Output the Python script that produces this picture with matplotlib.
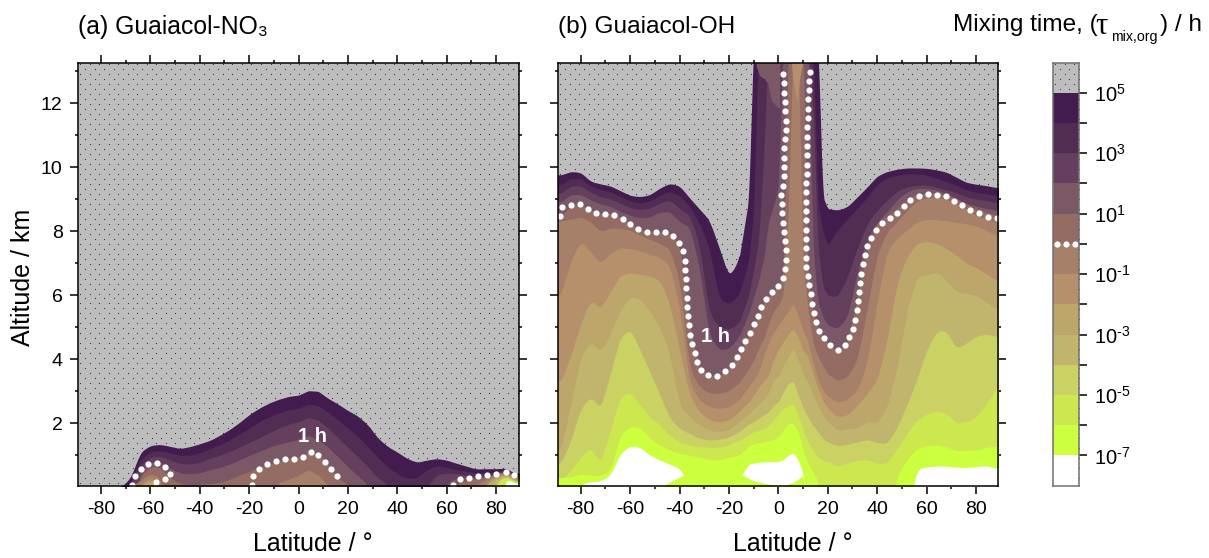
import matplotlib
matplotlib.use('Agg')
import matplotlib.pyplot as plt
import numpy as np

plt.rcParams['font.family'] = ['Liberation Sans', 'DejaVu Sans']
plt.rcParams['mathtext.fontset'] = 'custom'
plt.rcParams['mathtext.rm'] = 'Liberation Sans'
plt.rcParams['mathtext.it'] = 'Liberation Sans:italic'
plt.rcParams['mathtext.bf'] = 'Liberation Sans:bold'
plt.rcParams['mathtext.default'] = 'regular'

# band colours, from 10^5..10^4 down to below 10^-7
band_colors = ['#421c4e', '#512c53', '#65405e', '#7a5865', '#946c63', '#a68068', '#b6906a',
               '#bca669', '#c1b56e', '#c9d263', '#cde74e', '#ccff3d', '#ffffff']
gray = '#bdbdbd'
exponents = [5, 4, 3, 2, 1, 0, -1, -2, -3, -4, -5, -6, -7]

# (b) Guaiacol-OH: altitude (km) of each mixing time contour at each latitude
lat_b = [-88, -84, -80, -76, -72, -68, -64, -60, -56, -52, -48, -44, -40, -36, -32, -28, -24, -20, -16, -12,
         -10, -8, -6, -4, -2, 0, 2, 4, 6, 8, 10, 12, 14, 16, 18, 20,
         24, 28, 32, 36, 40, 44, 48, 52, 56, 60, 64, 68, 72, 76, 80, 84, 88]
b_p5 = [9.76, 9.87, 9.84, 9.56, 9.48, 9.42, 9.27, 9.12, 9.08, 9.14, 9.35, 9.50, 9.42, 9.05, 8.70, 8.36, 7.50, 6.58, 7.10, 9.0,
        14, 14, 14, 14, 14, 14, 14, 14, 14, 14, 14, 14, 14, 14, 9.08, 8.71,
        8.66, 8.77, 9.08, 9.39, 9.73, 9.87, 9.94, 9.98, 9.98, 9.97, 9.92, 9.85, 9.69, 9.53, 9.47, 9.43, 9.37]
b_p4 = [9.45, 9.66, 9.66, 9.42, 9.30, 9.24, 9.09, 8.95, 8.88, 8.95, 9.12, 9.25, 9.12, 8.80, 8.25, 7.50, 5.90, 5.72, 6.00, 7.10,
        8.60, 14, 14, 14, 14, 14, 14, 14, 14, 14, 14, 14, 14, 8.9, 8.0, 7.57,
        8.04, 8.40, 8.71, 9.08, 9.48, 9.68, 9.75, 9.80, 9.80, 9.76, 9.66, 9.56, 9.44, 9.30, 9.22, 9.18, 9.12]
b_p3 = [9.18, 9.42, 9.42, 9.22, 9.08, 9.02, 8.88, 8.74, 8.68, 8.72, 8.88, 8.98, 8.72, 8.50, 7.62, 5.43, 5.02, 4.94, 5.12, 6.00,
        6.8, 7.7, 10.2, 14, 14, 14, 14, 14, 14, 14, 14, 14, 12, 7.5, 6.27, 6.0,
        5.95, 6.58, 7.50, 8.25, 8.66, 8.98, 9.24, 9.39, 9.44, 9.45, 9.38, 9.30, 9.20, 9.08, 9.00, 8.97, 8.90]
b_p2 = [8.92, 9.15, 9.15, 8.98, 8.85, 8.78, 8.62, 8.50, 8.42, 8.45, 8.60, 8.62, 8.30, 8.15, 6.90, 4.75, 4.29, 4.34, 4.70, 5.43,
        5.95, 6.47, 7.1, 8.3, 8.8, 9.3, 14, 14, 14, 14, 14, 14, 7.52, 5.8, 5.33, 5.07,
        4.96, 5.33, 6.74, 7.78, 8.30, 8.61, 8.98, 9.24, 9.34, 9.34, 9.29, 9.18, 9.03, 8.87, 8.79, 8.71, 8.66]
b_p1 = [8.47, 8.80, 8.82, 8.68, 8.55, 8.56, 8.45, 8.27, 8.04, 7.97, 7.98, 7.96, 7.62, 5.10, 3.74, 3.49, 3.50, 3.70, 4.20, 4.78,
        5.05, 5.4, 5.77, 6.0, 6.1, 6.3, 6.6, 14, 14, 14, 14, 6.5, 5.5, 5.0, 4.72, 4.5,
        4.26, 4.55, 5.9, 7.5, 8.25, 8.5, 8.7, 9.0, 9.15, 9.2, 9.2, 9.15, 9.0, 8.85, 8.7, 8.6, 8.5]
b_0 = [8.33, 8.38, 8.45, 8.30, 7.99, 8.11, 8.09, 8.04, 7.88, 7.75, 7.62, 7.46, 6.47, 3.71, 3.14, 2.95, 2.93, 3.02, 3.25, 3.71,
       3.97, 4.34, 4.65, 5.1, 5.5, 5.7, 6.0, 8.5, 14, 14, 6.9, 5.6, 4.5, 4.1, 3.8, 3.55,
       3.33, 3.45, 4.0, 5.6, 7.3, 8.0, 8.3, 8.65, 8.95, 9.05, 9.05, 9.0, 8.85, 8.7, 8.5, 8.4, 8.3]
b_m1 = [6.0, 7.1, 7.69, 7.36, 7.0, 7.31, 7.49, 7.46, 7.39, 7.29, 7.18, 6.94, 5.64, 3.25, 2.73, 2.52, 2.46, 2.52, 2.73, 3.14,
        3.37, 3.6, 4.1, 4.5, 4.85, 5.05, 5.3, 5.5, 5.75, 5.38, 4.91, 4.55, 3.9, 3.4, 3.05, 2.85,
        2.66, 2.75, 3.04, 3.9, 5.8, 7.4, 7.78, 8.04, 8.3, 8.37, 8.37, 8.33, 8.28, 8.24, 8.17, 8.04, 7.88]
b_m2 = [3.3, 4.13, 5.12, 5.85, 5.59, 6.11, 6.63, 6.70, 6.66, 6.60, 6.47, 5.75, 4.29, 2.88, 2.36, 2.10, 2.05, 2.10, 2.36, 2.67,
        2.88, 3.14, 3.3, 3.5, 3.98, 4.3, 4.55, 4.8, 4.96, 4.7, 4.29, 4.08, 3.56, 3.09, 2.72, 2.46,
        2.2, 2.26, 2.57, 2.93, 3.35, 4.6, 6.4, 7.2, 7.62, 7.69, 7.62, 7.46, 7.26, 7.0, 6.87, 6.68, 6.47]
b_m3 = [1.16, 2.62, 4.08, 4.55, 4.24, 4.81, 5.54, 5.95, 5.9, 5.49, 5.02, 4.18, 2.55, 2.2, 1.95, 1.78, 1.74, 1.8, 2.05, 2.3,
        2.45, 2.6, 2.75, 2.95, 3.35, 3.45, 3.82, 4.08, 4.34, 3.98, 3.56, 3.25, 2.88, 2.57, 2.26, 2.05,
        1.77, 1.83, 1.85, 2.07, 2.0, 2.5, 3.7, 5.5, 6.58, 6.63, 6.74, 6.47, 6.11, 6.06, 6.0, 5.8, 5.59]
b_m4 = [.75, 1.47, 2.46, 2.83, 2.46, 3.56, 4.7, 4.94, 4.3, 3.6, 2.9, 2.15, 1.84, 1.68, 1.53, 1.47, 1.5, 1.56, 1.74, 1.98,
        2.05, 2.15, 2.26, 2.36, 2.57, 2.67, 2.99, 3.25, 3.33, 2.88, 2.46, 2.2, 1.94, 1.74, 1.53, 1.42,
        1.29, 1.35, 1.42, 1.5, 1.39, 1.37, 1.87, 2.57, 3.35, 4.29, 4.88, 4.89, 4.34, 4.5, 4.72, 4.79, 4.72]
b_m5 = [.22, .54, .95, 1.25, .75, 1.79, 2.83, 2.99, 2.57, 2.2, 1.94, 1.63, 1.42, 1.32, 1.27, 1.25, 1.25, 1.32, 1.47, 1.63,
        1.74, 1.79, 1.84, 1.94, 2.1, 2.29, 2.46, 2.57, 2.6, 2.26, 1.79, 1.42, 1.16, .95, .85, .8,
        .66, .75, .85, .87, .75, .75, 1.21, 1.68, 2.1, 2.29, 2.39, 2.31, 2.0, 2.05, 2.2, 2.57, 3.09]
b_m6 = [.3, .33, .42, .38, .37, .54, 1.63, 1.91, 1.87, 1.53, 1.32, 1.16, 1.06, 1.0, .95, .87, .85, .95, 1.0, 1.3,
        1.35, 1.4, 1.42, 1.45, 1.5, 1.58, 1.79, 2.0, 2.0, 1.74, 1.16, .75, .49, .19, -1, -1,
        -1, -1, -1, -1, -1, -1, .38, .85, 1.21, 1.31, 1.32, 1.27, 1.14, 1.16, 1.16, 1.25, 1.29]
b_m7 = [-1, -1, .1, .17, .2, .38, 1.06, 1.3, 1.25, 1.0, .85, .72, .59, .1, -1, -1, -1, -.1, .25, .72,
        .75, .78, .8, .8, .8, .8, .87, 1.0, 1.08, .85, .45, -1, -1, -1, -1, -1,
        -1, -1, -1, -1, -1, -1, -1, -1, .56, .64, .66, .66, .63, .62, .64, .68, .59]
# lower edge of the white patches, lime below it
b_m7_floor = [-1, -1, -1, -1, -1, -1, -1, -1, -1, -1, -.02, .17, .31, .5, -1, -1, -1, .9, .45, .28,
              .2, .17, .13, .1, .07, .05, .05, .1, .15, .25, .4, -1, -1, -1, -1, -1,
              -1, -1, -1, -1, -1, -1, -1, -1, -1, -1, -1, -1, -1, -1, -1, -1, -1]
b_levels = [b_p5, b_p4, b_p3, b_p2, b_p1, b_0, b_m1, b_m2, b_m3, b_m4, b_m5, b_m6, b_m7]

# tops of the updraft column where the mixing time falls again with altitude
pocket1_lat = [-8.8, -8.8, -7.4, -5.5, -4.0, -3.2, -2.5, 0.7, 0.7]
pocket1_alt = [13.3, 13.15, 12.85, 12.75, 12.6, 12.3, 12.05, 11.8, 13.3]
pocket2_lat = [5.4, 6, 7.7, 8.9, 10.1]
pocket2_alt = [13.3, 12.8, 12.0, 12.8, 13.3]

# 1 h line in (b)
b_1h_left_lat = [-88.3, -87.6, -84.6, -81.1, -78.1, -74.9, -71.1, -67.5, -64.1, -61, -57.9, -54.3, -50.5, -46.7, -43.7, -41.2, -39,
                 -38.1, -37.7, -37.4, -37, -36.7, -35.9, -35.1, -34.3, -33.3, -32.4, -30.1, -26.3, -23.2, -20.2, -17.5, -15.9,
                 -14.4, -12.4, -10.4, -9, -7.4, -5.9, -3.9, -0.9, 1.5, 2.7, 3.1, 3.1, 3, 2.4, 1.9, 1.35, 1.08, 1.75, 2.3, 2.4, 2.4, 3.0, 3.1, 2.7, 2.3, 1.35]
b_1h_left_alt = [8.47, 8.75, 8.79, 8.87, 8.77, 8.59, 8.53, 8.56, 8.45, 8.30, 8.12, 7.99, 7.97, 8.01, 7.95, 7.76, 7.48,
                 7.18, 6.89, 6.32, 5.73, 5.43, 4.86, 4.58, 4.30, 4.03, 3.78, 3.56, 3.44, 3.53, 3.69, 3.95, 4.2,
                 4.5, 4.74, 5.0, 5.25, 5.52, 5.79, 6.01, 6.2, 6.47, 6.76, 7.05, 7.33, 7.62, 7.91, 8.2, 8.79, 9.09, 9.38, 9.67, 9.96, 10.55, 11.12, 11.41, 12.0, 12.58, 13.15]
b_1h_right_lat = [12.7, 12.3, 11.9, 11.7, 11.6, 11.5, 11.3, 11.3, 11.2, 11.2, 11.3, 12.1, 12.6, 13.2, 13.9, 14.7, 15.5, 16.6, 18.6, 21.2, 24.6,
                  27.4, 29.1, 30.4, 31.2, 31.8, 32.4, 32.8, 33.3, 33.7, 34.4, 35.4, 36.3, 38, 39.9, 42.2, 45.7, 48.3, 51.1, 54, 57.8,
                  61.5, 65.2, 68.4, 71.5, 74.8, 78.5, 81.9, 85.3, 88.4]
b_1h_right_alt = [12.99, 12.38, 11.8, 11.21, 10.63, 10.05, 9.18, 8.31, 7.43, 7.14, 6.85, 6.57, 6.27, 5.98, 5.68, 5.4, 5.12, 4.88, 4.64, 4.42, 4.26,
                  4.48, 4.74, 5.02, 5.31, 5.59, 5.89, 6.18, 6.47, 6.76, 7.04, 7.33, 7.6, 7.84, 8.11, 8.31, 8.43, 8.6, 8.82, 9.03, 9.14,
                  9.16, 9.14, 9.09, 8.94, 8.79, 8.63, 8.57, 8.43, 8.4]

# (a) Guaiacol-NO3
lat_a = [-72, -68, -64, -60, -56, -52, -48, -44, -40, -36, -32, -28, -24, -20, -16, -12, -8, -4, 0, 4, 8, 12, 16, 20,
         24, 28, 32, 36, 40, 44, 48, 52, 56, 60, 64, 68, 72, 76, 80, 84, 88]
a_p5 = [0, .3, 1.1, 1.31, 1.34, 1.28, 1.21, 1.27, 1.36, 1.46, 1.62, 1.8, 2.02, 2.27, 2.47, 2.63, 2.75, 2.84, 2.88, 3.02, 3.0, 2.78, 2.6, 2.4,
        2.23, 1.96, 1.55, 1.28, 1.1, .9, .78, .85, .9, .85, .75, .66, .57, .58, .58, .6, .42]
a_p4 = [-1, .15, .88, 1.12, 1.15, 1.08, 1.0, 1.0, 1.08, 1.2, 1.33, 1.48, 1.65, 1.85, 2.05, 2.2, 2.33, 2.42, 2.47, 2.6, 2.55, 2.35, 2.1, 1.85,
        1.6, 1.28, .95, .65, .42, .28, .3, .55, .68, .62, .55, .5, .45, .46, .48, .57, .4]
a_p3 = [-1, .08, .7, .95, .98, .85, .75, .72, .78, .9, 1.0, 1.12, 1.25, 1.4, 1.55, 1.7, 1.85, 1.97, 2.05, 2.18, 2.1, 1.85, 1.55, 1.25,
        .95, .65, .3, .1, -1, -1, -1, 0, .4, .45, .42, .38, .35, .36, .42, .55, .37]
a_p2 = [-1, -1, .5, .8, .8, .6, .45, .42, .45, .55, .62, .72, .85, 1.0, 1.12, 1.25, 1.35, 1.42, 1.5, 1.62, 1.5, 1.25, .95, .65,
        .35, .1, -1, -1, -1, -1, -1, -1, -1, .15, .28, .32, .3, .32, .38, .53, .35]
a_p1 = [-1, -1, .35, .65, .62, .3, .12, .08, .1, .12, .15, .25, .38, .5, .62, .72, .82, .9, .95, 1.1, 1.05, .72, .3, .08,
        -1, -1, -1, -1, -1, -1, -1, -1, -1, -1, .12, .22, .28, .33, .42, .5, .33]
a_0 = [-1, .02, .22, .42, .32, -1, -1, -1, -1, -1, -1, -1, -1, -1, -1, -1, .15, .25, .38, .55, .38, .05, -1, -1,
       -1, -1, -1, -1, -1, -1, -1, -1, -1, -1, -1, -1, .1, .25, .4, .47, .3]
a_m1 = [-1, -1, .12, .3, .15, -1, -1, -1, -1, -1, -1, -1, -1, -1, -1, -1, -1, -1, -1, -1, -1, -1, -1, -1,
        -1, -1, -1, -1, -1, -1, -1, -1, -1, -1, -1, -1, -1, .2, .35, .45, .25]
a_m2 = [-1, -1, .05, .22, .08, -1, -1, -1, -1, -1, -1, -1, -1, -1, -1, -1, -1, -1, -1, -1, -1, -1, -1, -1,
        -1, -1, -1, -1, -1, -1, -1, -1, -1, -1, -1, -1, -1, .12, .3, .42, .22]
a_m3 = [-1, -1, -1, .16, -1, -1, -1, -1, -1, -1, -1, -1, -1, -1, -1, -1, -1, -1, -1, -1, -1, -1, -1, -1,
        -1, -1, -1, -1, -1, -1, -1, -1, -1, -1, -1, -1, -1, .05, .24, .39, .2]
a_m4 = [-1] * 38 + [.17, .36, .18]
a_m5 = [-1] * 38 + [.1, .33, .16]
a_m6 = [-1] * 39 + [.3, .14]
a_m7 = [-1] * 39 + [.26, .12]
a_levels = [a_p5, a_p4, a_p3, a_p2, a_p1, a_0, a_m1, a_m2, a_m3, a_m4, a_m5, a_m6, a_m7]

# 1 h line in (a), three pieces
a_1h_lat = [[-67.5, -66.6, -64.7, -61.9, -58.4, -55, -52.3, -51.6, -55.4, -59],
            [-18.7, -18.7, -16.7, -13.4, -9.8, -6, -2.2, 1.3, 4, 6.8, 9.1, 11.8, 14.5, 17.1],
            [62.7, 63.8, 67.5, 71.3, 75, 78.8, 82.4, 85.9, 88.3]]
a_1h_alt = [[.07, .28, .51, .72, .78, .72, .54, .33, .23, .12],
            [.07, .31, .54, .71, .82, .87, .87, .93, 1.09, 1.11, .89, .69, .47, .22],
            [.07, .22, .29, .32, .37, .39, .46, .48, .3]]

W, H = 1209, 558
fig = plt.figure(figsize=(W / 100, H / 100), dpi=100)
xx = np.arange(-92, 92, 0.25)


def axes_px(x0, x1, y0, y1):
    return fig.add_axes([x0 / W, 1 - y1 / H, (x1 - x0) / W, (y1 - y0) / H])


def stipple(ax, xstep, ystep):
    x0, x1 = ax.get_xlim()
    y0, y1 = ax.get_ylim()
    for i, y in enumerate(np.arange(y0 + ystep / 2, y1, ystep)):
        xs = np.arange(x0 + (i % 2 + 0.5) * xstep / 2, x1, xstep)
        ax.scatter(xs, np.full_like(xs, y), s=0.75, c='#333333', lw=0, zorder=1)


def box(y, n):
    k = np.ones(n) / n
    return np.convolve(np.pad(y, n // 2, mode='edge'), k, mode='valid')


def smooth_curve(lat, row):
    # heavy smoothing away from the steep column walls, light near them
    yy = np.interp(xx, lat, row)
    wide = box(box(yy, 9), 9)
    thin = box(yy, 5)
    return np.where((xx > -16) & (xx < 22), thin, wide)


def draw_bands(ax, lat, levels):
    for row, col in zip(levels, band_colors):
        ax.fill_between(xx, -2, smooth_curve(lat, row), color=col, lw=0, zorder=2)


def dots(ax, lat, alt):
    # evenly spaced along the path, 9.3 px apart
    px = np.array(lat) * 2.47
    py = np.array(alt) * 32
    dist = np.concatenate([[0], np.cumsum(np.hypot(np.diff(px), np.diff(py)))])
    at = np.arange(0, dist[-1] + 1, 9.3)
    ax.scatter(np.interp(at, dist, lat), np.interp(at, dist, alt), s=20, c='white', lw=0, zorder=4)


def style_axes(ax, xlim):
    ax.set_xlim(*xlim)
    ax.set_ylim(0.05, 13.25)
    ax.set_facecolor(gray)
    ax.set_xticks(np.arange(-80, 81, 20))
    ax.set_xticks(np.arange(-70, 71, 20), minor=True)
    ax.set_xticklabels([str(v) for v in range(-80, 81, 20)])
    ax.set_yticks(np.arange(2, 13, 2))
    ax.set_yticks(np.arange(1, 14, 2), minor=True)
    ax.tick_params(which='major', direction='out', length=6, width=1.1, top=True, right=True, labelsize=14, pad=5)
    ax.tick_params(which='minor', direction='out', length=2.5, width=1.1, top=True, right=True)
    for s in ax.spines.values():
        s.set_linewidth(1.1)
        s.set_zorder(6)


ax_a = axes_px(78, 519, 63.3, 485.7)
style_axes(ax_a, (-89.3, 89.3))
stipple(ax_a, 3.85, 0.156)
draw_bands(ax_a, lat_a, a_levels)
for la, al in zip(a_1h_lat, a_1h_alt):
    dots(ax_a, la, al)
ax_a.text(5.5, 1.58, '1 h', color='white', fontweight='bold', fontsize=14.5, ha='center', va='center', zorder=5)

ax_b = axes_px(558, 998, 63.3, 485.7)
style_axes(ax_b, (-89.2, 88.9))
ax_b.tick_params(labelleft=False)
stipple(ax_b, 3.85, 0.156)
draw_bands(ax_b, lat_b, b_levels)
ax_b.fill_between(xx, -2, smooth_curve(lat_b, b_m7_floor), color=band_colors[11], lw=0, zorder=2)
ax_b.fill(pocket1_lat, pocket1_alt, color=band_colors[3], lw=0, zorder=3)
ax_b.fill(pocket2_lat, pocket2_alt, color=band_colors[6], lw=0, zorder=3)
dots(ax_b, b_1h_left_lat, b_1h_left_alt)
dots(ax_b, b_1h_right_lat, b_1h_right_alt)
ax_b.text(-25.5, 4.7, '1 h', color='white', fontweight='bold', fontsize=14.5, ha='center', va='center', zorder=5)

fig.text(23 / W, 1 - 277 / H, 'Altitude / km', fontsize=18, rotation=90, va='center', ha='center')
fig.text(313 / W, 1 - 544 / H, 'Latitude / °', fontsize=18, va='center', ha='center')
fig.text(793 / W, 1 - 544 / H, 'Latitude / °', fontsize=18, va='center', ha='center')

fig.text(78 / W, 1 - 27 / H, '(a) Guaiacol-NO₃', fontsize=17.8, va='center', ha='left')
fig.text(558 / W, 1 - 27 / H, '(b) Guaiacol-OH', fontsize=17.6, va='center', ha='left')
fig.text(953 / W, 1 - 25 / H, 'Mixing time, (', fontsize=17.6, va='center', ha='left')
fig.text(1095 / W, 1 - 27 / H, 'τ', fontsize=22, family='Liberation Serif', va='center', ha='left')
fig.text(1111 / W, 1 - 37 / H, 'mix,org', fontsize=10.2, va='center', ha='left')
fig.text(1202 / W, 1 - 25 / H, ') / h', fontsize=17.6, va='center', ha='right')

# colour bar
ax_c = axes_px(1052.7, 1079, 62.5, 485.7)
ax_c.set_xlim(0, 1)
ax_c.set_ylim(-8, 6)
ax_c.set_facecolor(gray)
stipple(ax_c, 0.36, 0.165)
for e, col in zip(exponents, band_colors):
    ax_c.bar(0.5, 1, bottom=e - 1, width=1, color=col, lw=0, zorder=2)
ax_c.scatter([0.17, 0.5, 0.83], [0, 0, 0], s=20, c='white', lw=0, zorder=4)
ax_c.set_xticks([])
ax_c.yaxis.tick_right()
ax_c.set_yticks(exponents)
ax_c.set_yticklabels([(r'$10^{\text{%d}}$' % e) if e % 2 else '' for e in exponents])
ax_c.tick_params(axis='y', direction='out', length=6, width=1.1, labelsize=14.5, pad=5)
for s in ax_c.spines.values():
    s.set_color('#707070')
    s.set_linewidth(1.1)
    s.set_zorder(6)

fig.savefig('out.png', dpi=100)
